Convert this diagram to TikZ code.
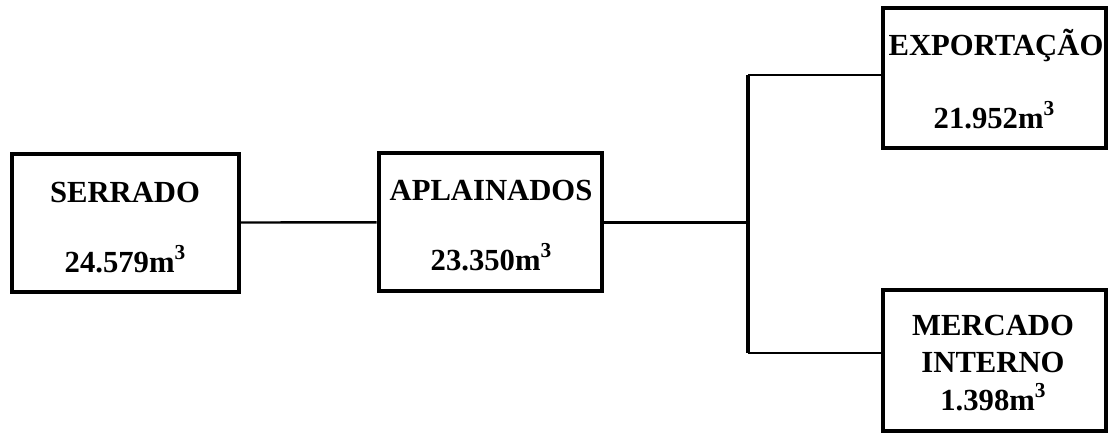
\documentclass[tikz,border=0pt]{standalone}
\usepackage{fontspec}
\setmainfont{Liberation Serif}
\newcommand{\cubed}{\raisebox{0.42em}{\fontsize{16}{16}\selectfont 3}}
\tikzset{
  box/.style={draw, line width=3pt, rectangle, inner sep=0pt, minimum width=167.25pt},
  lbl/.style={anchor=base, inner sep=0pt, font=\fontsize{23}{27}\selectfont\bfseries},
  conn/.style={line width=1.8pt},
  trunk/.style={line width=2.3pt}
}
\begin{document}
\begin{tikzpicture}[x=0.75pt,y=-0.75pt]
\useasboundingbox (0,0) rectangle (1109,444);
% boxes
\node[box, minimum width=170.25pt, minimum height=103.5pt] (serrado) at (125,222.5) {};
\node[box, minimum height=103.5pt] (aplain) at (490,222.3) {};
\node[box, minimum height=105.4pt] (export) at (994,78) {};
\node[box, minimum height=105.75pt] (mercado) at (994,360) {};
% texts
\node[lbl] (t1) at (125,202) {SERRADO};
\node[lbl] (n1) at (125,272) {24.579m\cubed};
\node[lbl] (t2) at (491,200) {APLAINADOS};
\node[lbl] (n2) at (491,270) {23.350m\cubed};
\node[lbl] (t3) at (996,55) {EXPORTAÇÃO};
\node[lbl] (n3) at (994,128) {21.952m\cubed};
\node[lbl] (t4) at (993,335) {MERCADO};
\node[lbl] (t5) at (993,372) {INTERNO};
\node[lbl] (n4) at (993,410) {1.398m\cubed};
% connectors
\coordinate (j) at (748,219);
\coordinate (jt) at (748,75);
\coordinate (jb) at (748,353);
\draw[conn] (serrado.east) -- (aplain.west);
\draw[conn] (aplain.east) -- (aplain.east -| j);
\draw[trunk] (jt) -- (jb);
\draw[conn] (jt) -- (jt -| export.west);
\draw[conn] (jb) -- (jb -| mercado.west);
\end{tikzpicture}
\end{document}
